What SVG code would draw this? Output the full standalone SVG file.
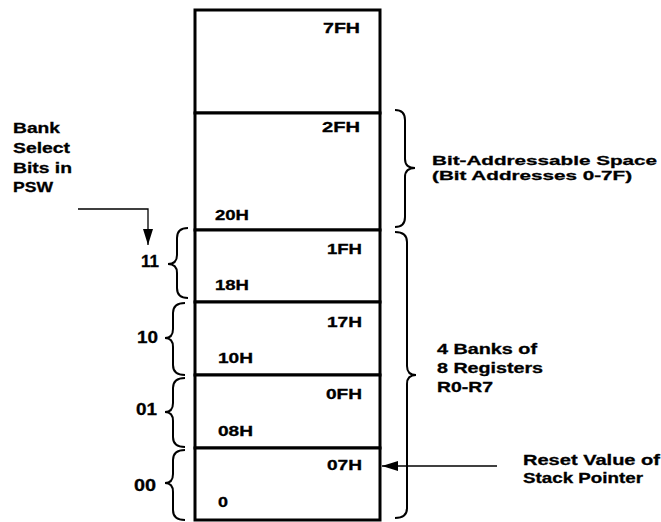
<svg xmlns="http://www.w3.org/2000/svg" width="661" height="522" viewBox="0 0 661 522">
<style>
text{font-family:"Liberation Sans",Arial,sans-serif;font-weight:bold;font-size:14px;fill:#000;stroke:#000;stroke-width:0.3}
.big{font-size:15px}
.num{font-size:16px}
.tight{font-size:13px}
.box{fill:#fff;stroke:#000;stroke-width:3}
.brace{fill:none;stroke:#000;stroke-width:2}
.conn{fill:none;stroke:#000;stroke-width:1.3}
</style>
<defs>
<marker id="ah" viewBox="0 0 16 10" refX="16" refY="5" markerWidth="16" markerHeight="10" markerUnits="userSpaceOnUse" orient="auto">
<path d="M0,0 L16,5 L0,10 Z" fill="#000"/>
</marker>
</defs>
<rect width="661" height="522" fill="#fff"/>
<g id="mem-7F">
<rect class="box" x="195" y="10" width="185" height="103"/>
<text x="323" y="33" textLength="37" lengthAdjust="spacingAndGlyphs">7FH</text>
</g>
<g id="mem-bit">
<rect class="box" x="195" y="113" width="185" height="117"/>
<text x="322" y="132" textLength="38" lengthAdjust="spacingAndGlyphs">2FH</text>
<text x="215" y="220" textLength="34" lengthAdjust="spacingAndGlyphs">20H</text>
</g>
<g id="mem-bank3">
<rect class="box" x="195" y="230" width="185" height="72"/>
<text x="327" y="254" textLength="35" lengthAdjust="spacingAndGlyphs">1FH</text>
<text x="215" y="290" textLength="34" lengthAdjust="spacingAndGlyphs">18H</text>
</g>
<g id="mem-bank2">
<rect class="box" x="195" y="302" width="185" height="73"/>
<text x="327" y="327" textLength="35" lengthAdjust="spacingAndGlyphs">17H</text>
<text x="218" y="363" textLength="35" lengthAdjust="spacingAndGlyphs">10H</text>
</g>
<g id="mem-bank1">
<rect class="box" x="195" y="375" width="185" height="73"/>
<text x="326" y="399" textLength="36" lengthAdjust="spacingAndGlyphs">0FH</text>
<text x="218" y="436" textLength="35" lengthAdjust="spacingAndGlyphs">08H</text>
</g>
<g id="mem-bank0">
<rect class="box" x="195" y="448" width="185" height="72"/>
<text x="327" y="470" textLength="35" lengthAdjust="spacingAndGlyphs">07H</text>
<text x="218" y="507" textLength="10" lengthAdjust="spacingAndGlyphs">0</text>
</g>
<g id="label-psw">
<text class="big" x="13" y="133" textLength="47" lengthAdjust="spacingAndGlyphs">Bank</text>
<text class="big" x="13" y="153" textLength="57" lengthAdjust="spacingAndGlyphs">Select</text>
<text class="big" x="13" y="173" textLength="59" lengthAdjust="spacingAndGlyphs">Bits in</text>
<text class="big" x="13" y="192" textLength="40" lengthAdjust="spacingAndGlyphs">PSW</text>
</g>
<g id="bank-select">
<path class="brace" d="M188,228 Q177,228 177,238 L177,255 Q177,264 168,264 Q177,264 177,273 L177,288 Q177,298 188,298"/>
<text class="num" x="141" y="267" textLength="18" lengthAdjust="spacingAndGlyphs">11</text>
<path class="brace" d="M185,303 Q173,303 173,313 L173,329 Q173,338 165,338 Q173,338 173,347 L173,365 Q173,375 185,375"/>
<text class="num" x="137" y="343" textLength="21" lengthAdjust="spacingAndGlyphs">10</text>
<path class="brace" d="M185,378 Q173,378 173,388 L173,403 Q173,412 165,412 Q173,412 173,421 L173,437 Q173,447 185,447"/>
<text class="num" x="136" y="415" textLength="21" lengthAdjust="spacingAndGlyphs">01</text>
<path class="brace" d="M185,450 Q173,450 173,460 L173,474 Q173,483 165,483 Q173,483 173,492 L173,510 Q173,520 185,520"/>
<text class="num" x="134" y="491" textLength="22" lengthAdjust="spacingAndGlyphs">00</text>
</g>
<g id="label-bitaddr">
<path class="brace" d="M395,110 Q405,110 405,120 L405,159 Q405,168 415,168 Q405,168 405,177 L405,217 Q405,227 395,227"/>
<text class="tight" x="432" y="165" textLength="225" lengthAdjust="spacingAndGlyphs">Bit-Addressable Space</text>
<text class="tight" x="432" y="180" textLength="200" lengthAdjust="spacingAndGlyphs">(Bit Addresses 0-7F)</text>
</g>
<g id="label-banks">
<path class="brace" d="M395,232 Q407,232 407,242 L407,366 Q407,375 416,375 Q407,375 407,384 L407,508 Q407,518 395,518"/>
<text x="437" y="354" textLength="100" lengthAdjust="spacingAndGlyphs">4 Banks of</text>
<text x="437" y="373" textLength="106" lengthAdjust="spacingAndGlyphs">8 Registers</text>
<text x="437" y="392" textLength="56" lengthAdjust="spacingAndGlyphs">R0-R7</text>
</g>
<g id="label-sp">
<text x="523" y="465" textLength="137" lengthAdjust="spacingAndGlyphs">Reset Value of</text>
<text x="523" y="483" textLength="120" lengthAdjust="spacingAndGlyphs">Stack Pointer</text>
</g>
<g id="connectors">
<path class="conn" d="M78,209 L148,209 L148,245" marker-end="url(#ah)"/>
<path class="conn" d="M497,466 L382,466" marker-end="url(#ah)"/>
</g>
</svg>
